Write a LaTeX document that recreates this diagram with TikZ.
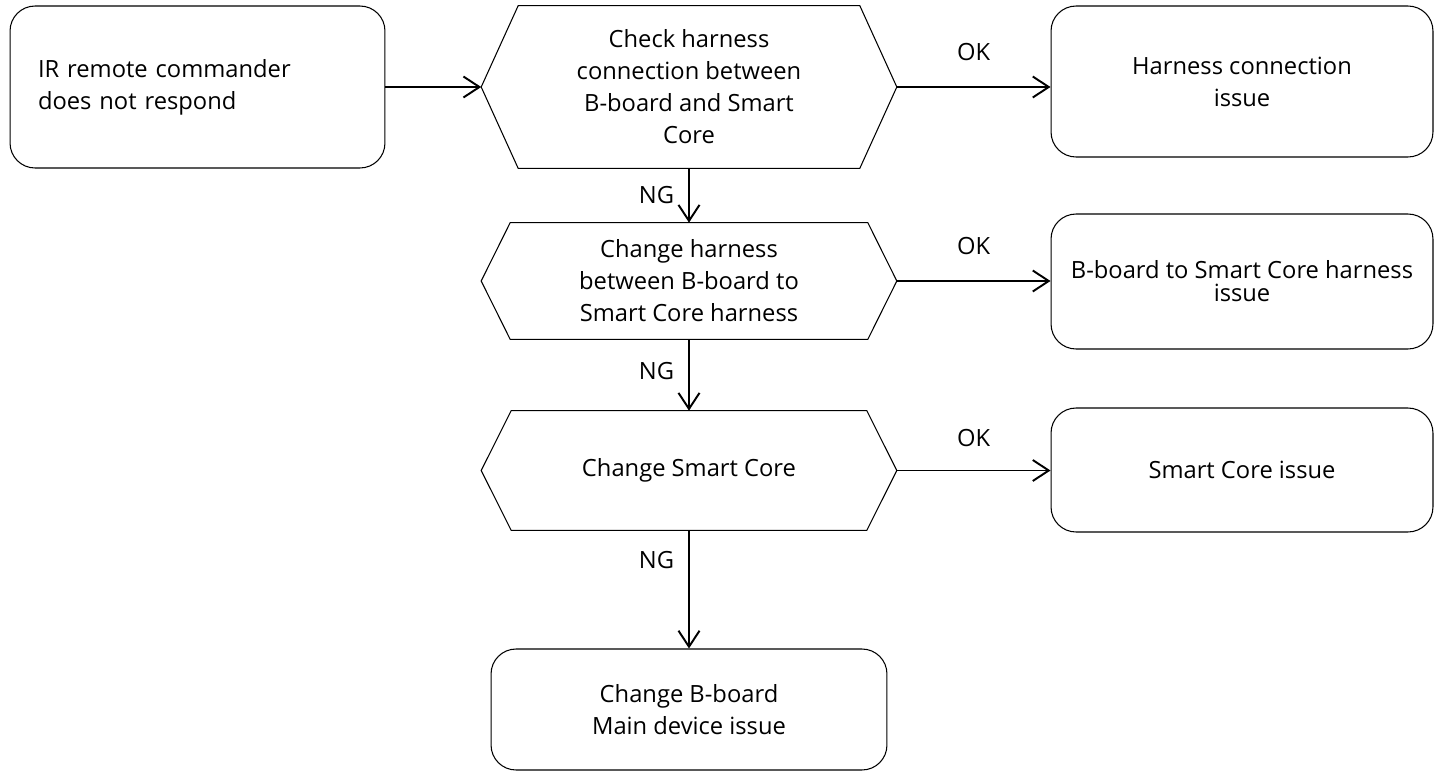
\documentclass[tikz,border=0pt]{standalone}
\usepackage{fontspec}
\setmainfont{Open Sans}
\usetikzlibrary{arrows.meta}

\begin{document}
\begin{tikzpicture}[x=0.02cm, y=-0.02cm,
    every node/.style={font=\fontsize{13.5}{18.2}\selectfont},
    roundbox/.style={draw, rounded corners=0.5cm, line width=0.6pt, align=center, inner sep=0pt},
    hexbox/.style={minimum width=8.3cm, align=center, inner sep=0pt},
    tag/.style={inner sep=0pt},
    flow/.style={-{Straight Barb[length=3.2mm,width=4.2mm]}, line width=1.1pt}]

    \useasboundingbox (0,0) rectangle (1434,771);

    \node[roundbox, minimum width=7.5cm, minimum height=3.24cm, text width=6.38cm, align=left] (start) at (197.5,87) {IR remote commander\\does not respond};

    \node[hexbox, minimum height=3.24cm] (check) at (689,87) {Check harness\\connection between\\B-board and Smart\\Core};
    \node[hexbox, minimum height=2.32cm] (swap) at (689,281) {Change harness\\between B-board to\\Smart Core harness};
    \node[hexbox, minimum height=2.38cm] (core) at (689,470.5) {Change Smart Core};
    \node[roundbox, minimum width=7.92cm, minimum height=2.42cm] (board) at (689,709.5) {Change B-board\\Main device issue};

    \node[roundbox, minimum width=7.64cm, minimum height=3.02cm] (conn) at (1242,81.5) {Harness connection\\issue};
    \node[roundbox, minimum width=7.64cm, minimum height=2.7cm] (harn) at (1242,281.5) {B-board to Smart Core harness\\[-5pt]issue};
    \node[roundbox, minimum width=7.64cm, minimum height=2.48cm] (coreiss) at (1242,470) {Smart Core issue};

    % hexagon outlines
    \foreach \h/\d in {check/0.74cm, swap/0.58cm, core/0.6cm} {
      \draw[line width=0.6pt] (\h.west) -- ([xshift=\d]\h.north west) -- ([xshift=-\d]\h.north east) -- (\h.east)
        -- ([xshift=-\d]\h.south east) -- ([xshift=\d]\h.south west) -- cycle;
    }

    \draw[flow] (start) -- (check);

    \draw[flow] (check.east) -- (check.east -| conn.west) node[tag, midway, above=0.5cm] (ok1) {OK};
    \draw[flow] (swap.east) -- (swap.east -| harn.west) node[tag, midway, above=0.5cm] (ok2) {OK};
    \draw[flow] (core.east) -- (core.east -| coreiss.west) node[tag, midway, above=0.45cm] (ok3) {OK};

    \draw[flow] (check) -- (swap) node[tag, pos=0.5, left=0.28cm] (ng1) {NG};
    \draw[flow] (swap) -- (core) node[tag, pos=0.45, left=0.28cm] (ng2) {NG};
    \draw[flow] (core) -- (board) node[tag, pos=0.25, left=0.28cm] (ng3) {NG};
    \end{tikzpicture}
\end{document}
